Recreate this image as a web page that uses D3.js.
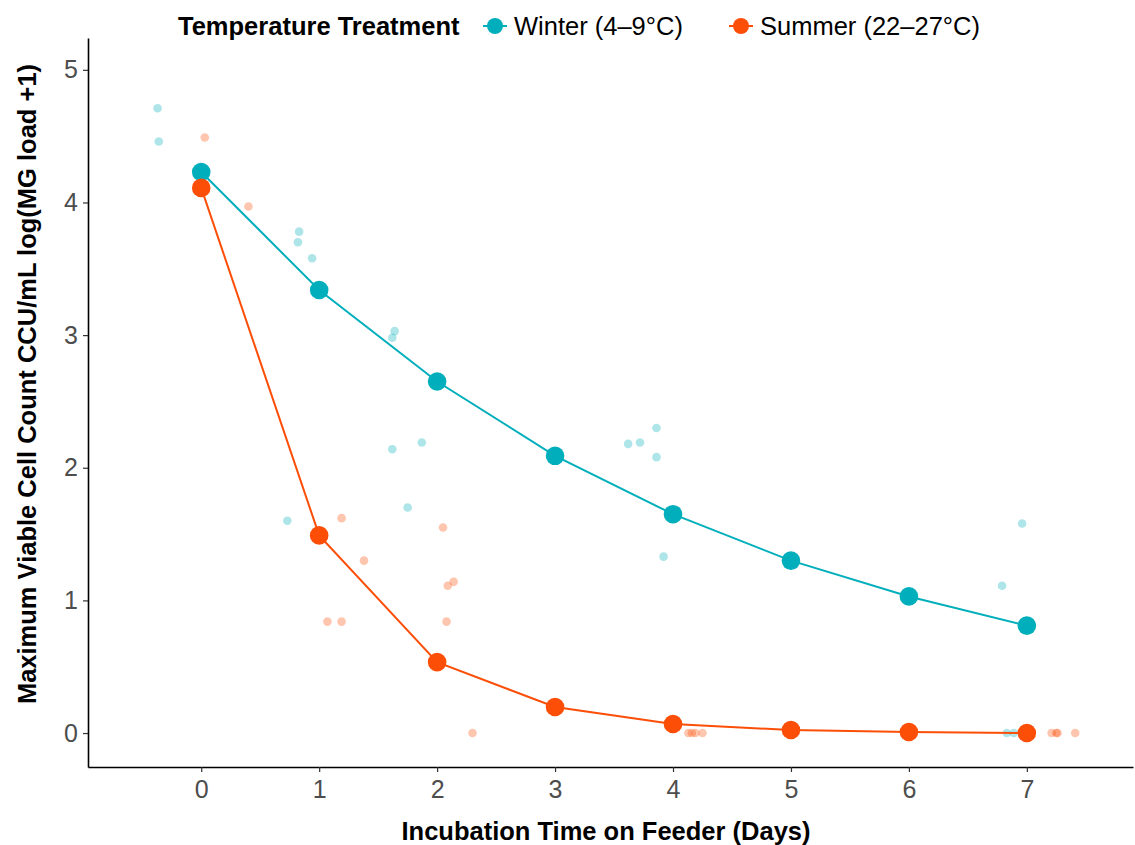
<!DOCTYPE html>
<html>
<head>
<meta charset="utf-8">
<script src="https://cdn.jsdelivr.net/npm/d3@7"></script>
<style>
  body { margin: 0; background: #fff; }
  text { font-family: "Liberation Sans", Arial, sans-serif; }
</style>
</head>
<body>
<div id="chart"></div>
<script>
var width = 1135, height = 845;

// mean values per day
var days = [0, 1, 2, 3, 4, 5, 6, 7];
var winterMean = [4.23, 3.34, 2.65, 2.09, 1.65, 1.30, 1.03, 0.81];
var summerMean = [4.11, 1.49, 0.535, 0.196, 0.068, 0.023, 0.008, 0.0];

// jittered raw observations
var winterX = [-0.37, -0.36, 0.83, 0.82, 0.94, 1.64, 1.62, 0.73, 1.62, 1.87, 1.75,
               3.62, 3.72, 3.86, 3.86, 3.92, 6.79, 6.96, 6.83, 6.89];
var winterY = [4.71, 4.46, 3.78, 3.70, 3.58, 3.03, 2.98, 1.60, 2.14, 2.19, 1.70,
               2.18, 2.19, 2.30, 2.08, 1.33, 1.11, 1.58, 0, 0];
var summerX = [0.03, 0.40, 1.07, 1.19, 1.19, 1.38, 2.05, 2.14, 2.09, 2.08, 2.30,
               4.13, 4.16, 4.19, 4.25, 7.21, 7.25, 7.26, 7.41];
var summerY = [4.49, 3.97, 0.84, 0.84, 1.62, 1.30, 1.55, 1.14, 1.11, 0.84, 0,
               0, 0, 0, 0, 0, 0, 0, 0];

var xTicks = [0, 1, 2, 3, 4, 5, 6, 7];
var yTicks = [0, 1, 2, 3, 4, 5];

var series = [
  {name: "Winter (4\u20139\u00b0C)", color: "#00AFBB", mean: winterMean, x: winterX, y: winterY},
  {name: "Summer (22\u201327\u00b0C)", color: "#FC4E07", mean: summerMean, x: summerX, y: summerY}
];

var margin = {top: 38, right: 2, bottom: 78, left: 88},
    w = width - margin.left - margin.right,
    h = height - margin.top - margin.bottom;

var svg = d3.select("#chart").append("svg")
    .attr("width", width)
    .attr("height", height);

var g = svg.append("g").attr("transform", "translate(" + margin.left + "," + margin.top + ")");

var x = d3.scaleLinear().domain([-0.96, 7.9]).range([0, w]),
    y = d3.scaleLinear().domain([-0.256, 5.24]).range([h, 0]);

// axes
var xAxis = d3.axisBottom(x).tickValues(xTicks).tickSize(5).tickSizeOuter(0).tickPadding(5)
      .tickFormat(d3.format("d")),
    yAxis = d3.axisLeft(y).tickValues(yTicks).tickSize(5).tickSizeOuter(0).tickPadding(5)
      .tickFormat(d3.format("d"));

var gx = g.append("g").attr("transform", "translate(0," + h + ")").call(xAxis);
var gy = g.append("g").call(yAxis);

[gx, gy].forEach(function(a) {
  a.attr("font-size", null).attr("font-family", null);
  a.select(".domain").attr("stroke", "#000").attr("stroke-width", 1.6);
  a.selectAll(".tick line").attr("stroke", "#333").attr("stroke-width", 1.2);
  a.selectAll(".tick text").attr("fill", "#4d4d4d").style("font-size", "25px");
});
gx.selectAll(".tick text").attr("dy", "0.85em");

// raw points
series.forEach(function(s) {
  g.append("g").selectAll("circle")
    .data(s.x.map(function(d, i) { return [d, s.y[i]]; }))
    .enter().append("circle")
    .attr("cx", function(d) { return x(d[0]); })
    .attr("cy", function(d) { return y(d[1]); })
    .attr("r", 4.3)
    .attr("fill", s.color)
    .attr("fill-opacity", 0.32);
});

// mean lines and dots
var line = d3.line()
    .x(function(d) { return x(d[0]); })
    .y(function(d) { return y(d[1]); });

series.forEach(function(s) {
  var pts = days.map(function(d, i) { return [d, s.mean[i]]; });
  g.append("path")
    .datum(pts)
    .attr("d", line)
    .attr("fill", "none")
    .attr("stroke", s.color)
    .attr("stroke-width", 2);
  g.append("g").selectAll("circle")
    .data(pts)
    .enter().append("circle")
    .attr("cx", function(d) { return x(d[0]); })
    .attr("cy", function(d) { return y(d[1]); })
    .attr("r", 9.3)
    .attr("fill", s.color);
});

// axis titles
svg.append("text")
  .attr("x", 606)
  .attr("y", 840)
  .attr("text-anchor", "middle")
  .style("font-size", "25.5px")
  .style("font-weight", "bold")
  .text("Incubation Time on Feeder (Days)");

svg.append("text")
  .attr("transform", "translate(36," + 384 + ") rotate(-90)")
  .attr("text-anchor", "middle")
  .style("font-size", "25.5px")
  .style("font-weight", "bold")
  .text("Maximum Viable Cell Count CCU/mL log(MG load +1)");

// legend
var legend = svg.append("g").attr("transform", "translate(0,26)");
legend.append("text")
  .attr("x", 178)
  .attr("y", 9)
  .style("font-size", "25.5px")
  .style("font-weight", "bold")
  .text("Temperature Treatment");

var keyX = [495, 741];
series.forEach(function(s, i) {
  var k = legend.append("g").attr("transform", "translate(" + keyX[i] + ",0)");
  k.append("line").attr("x1", -12).attr("x2", 12)
    .attr("stroke", s.color).attr("stroke-width", 2);
  k.append("circle").attr("r", 8).attr("fill", s.color);
  k.append("text").attr("x", 19).attr("y", 9)
    .style("font-size", "25.5px")
    .text(s.name);
});
</script>
</body>
</html>
